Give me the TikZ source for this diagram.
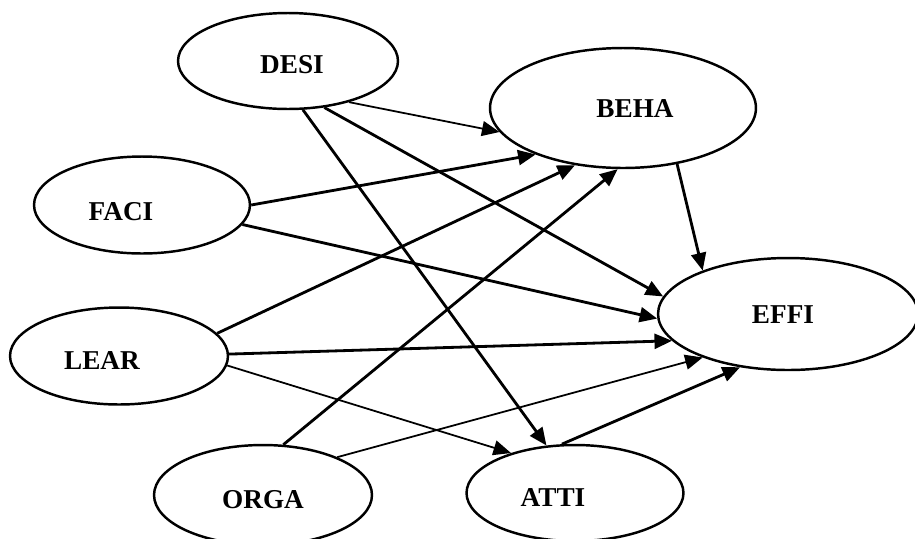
\documentclass[tikz,border=0pt]{standalone}
\usepackage{fontspec}
\setmainfont{Liberation Serif}
\usetikzlibrary{arrows.meta, shapes.geometric, positioning}

\begin{document}
\begin{tikzpicture}[x=0.02cm, y=-0.02cm,
    >={Triangle[length=10pt, width=8.5pt]},
    var/.style={ellipse, draw, line width=1.4pt, inner sep=0pt},
    lbl/.style={font=\fontsize{15.5}{18}\selectfont\bfseries},
    path/.style={->, line width=1.6pt},
    weak path/.style={->, line width=1pt}]
    \useasboundingbox (0,0) rectangle (915,538);

    % constructs
    \node[var, minimum width=4.4cm, minimum height=1.92cm] (desi) at (288,61) {};
    \node[var, minimum width=5.32cm, minimum height=2.4cm] (beha) at (623,108) {};
    \node[var, minimum width=4.32cm, minimum height=1.94cm] (faci) at (142,205) {};
    \node[var, minimum width=5.2cm, minimum height=2.24cm] (effi) at (788,314) {};
    \node[var, minimum width=4.36cm, minimum height=1.94cm] (lear) at (119,356) {};
    \node[var, minimum width=4.36cm, minimum height=2cm] (orga) at (263,495) {};
    \node[var, minimum width=4.34cm, minimum height=1.92cm] (atti) at (575,493) {};

    \node[lbl] (desi-t) at (292,65) {DESI};
    \node[lbl] (beha-t) at (635,109) {BEHA};
    \node[lbl] (faci-t) at (121,212) {FACI};
    \node[lbl] (effi-t) at (783,315) {EFFI};
    \node[lbl] (lear-t) at (102,361) {LEAR};
    \node[lbl] (orga-t) at (263,500) {ORGA};
    \node[lbl] (atti-t) at (553,497) {ATTI};

    % paths
    \draw
    (desi.-34) edge[weak path] (beha.-169)
    (desi.-52) edge[path] (effi.172)
    (desi.-73) edge[path] (atti.121)
    (faci.0) edge[path] (beha.-152)
    (faci.-11) edge[path] (effi.-178)
    (lear.13) edge[path] (beha.-130)
    (lear.1) edge[path] (effi.-167)
    (lear.-5) edge[weak path] (atti.148)
    (orga.68) edge[path] (beha.-95)
    (orga.27) edge[weak path] (effi.-153)
    (atti.105) edge[path] (effi.-132)
    (beha.-46) edge[path] (effi.153);
\end{tikzpicture}
\end{document}
